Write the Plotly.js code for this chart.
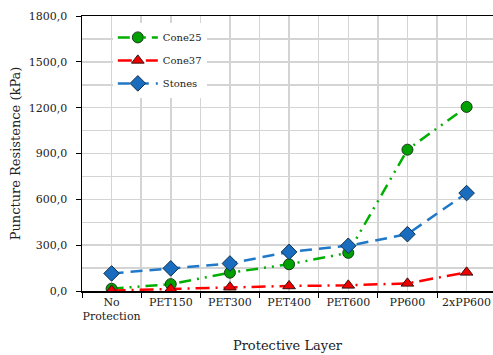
<!DOCTYPE html>
<html>
<head>
<meta charset="utf-8">
<script src="https://cdn.plot.ly/plotly-3.0.1.min.js"></script>
<style>html,body{margin:0;padding:0;background:#fff;}#chart{width:493px;height:355px;}</style>
</head>
<body>
<div id="chart"></div>
<script>
const categories = ["No<br>Protection", "PET150", "PET300", "PET400", "PET600", "PP600", "2xPP600"];
const cone25 = [15, 45, 120, 175, 250, 925, 1205];
const cone37 = [3, 12, 25, 33, 37, 50, 122];
const stones = [115, 148, 180, 256, 296, 372, 641];
const seriesNames = ["Cone25", "Cone37", "Stones"];
const yTickVals = [0, 300, 600, 900, 1200, 1500, 1800];

const xIdx = categories.map((_, i) => i);
const serif = "DejaVu Serif";

const traces = [
  {
    x: xIdx, y: cone25, name: seriesNames[0], type: "scatter", mode: "lines+markers", legendgroup: "g1",
    line: {color: "#00b000", width: 2.5, dash: "12px,6px,2px,6px,2px,6px"},
    marker: {symbol: "circle", size: 11, color: "#00a000", line: {color: "#1a3a1a", width: 1}}
  },
  {
    x: xIdx, y: cone37, name: seriesNames[1], type: "scatter", mode: "lines+markers", legendgroup: "g2",
    line: {color: "#ff0000", width: 2.5, dash: "14px,6px,2px,6px"},
    marker: {symbol: "triangle-up", size: 11, color: "#ee0000", line: {color: "#3a1010", width: 1}}
  },
  {
    x: xIdx, y: stones, name: seriesNames[2], type: "scatter", mode: "lines+markers", legendgroup: "g3",
    line: {color: "#1f78c8", width: 2.5, dash: "12px,7px"},
    marker: {symbol: "diamond", size: 12, color: "#1a6cbf", line: {color: "#10304a", width: 1}}
  }
];

const layout = {
  width: 493, height: 355,
  margin: {l: 82, r: 0, t: 16, b: 64},
  paper_bgcolor: "#fff", plot_bgcolor: "#fff",
  separators: ",.",
  showlegend: true,
  font: {family: serif, color: "#222", size: 11},
  legend: {
    x: 0.075, y: 0.975, xanchor: "left", yanchor: "top",
    bgcolor: "#ffffff", borderwidth: 0,
    font: {family: serif, size: 10, color: "#222"},
    itemwidth: 40, tracegroupgap: 4
  },
  xaxis: {
    range: [-0.5, 6.446],
    tickvals: xIdx, ticktext: categories,
    ticks: "", showgrid: true, gridcolor: "#d4d4d4", gridwidth: 1.5,
    showline: true, linecolor: "#000", linewidth: 1.5, mirror: true,
    zeroline: false,
    tickfont: {family: serif, size: 11, color: "#222"},
    minor: {tick0: 0.5, dtick: 1, ticks: "outside", ticklen: 5, tickcolor: "#000", showgrid: true, gridcolor: "#d4d4d4", gridwidth: 1.5},
    title: {text: "Protective Layer", font: {family: serif, size: 13, color: "#222"}, standoff: 19}
  },
  yaxis: {
    range: [0, 1800],
    tickvals: yTickVals, tickformat: ".1f",
    ticks: "outside", ticklen: 5, tickcolor: "#000",
    ticklabelstandoff: 6,
    showgrid: true, gridcolor: "#d4d4d4", gridwidth: 1.5,
    showline: true, linecolor: "#000", linewidth: 1.5,
    zeroline: false,
    tickfont: {family: serif, size: 11, color: "#222"},
    minor: {tick0: 150, dtick: 300, showgrid: true, gridcolor: "#d4d4d4", gridwidth: 1.5, ticks: ""},
    title: {text: "Puncture Resistence (kPa)", font: {family: serif, size: 13, color: "#222"}, standoff: 5}
  }
};

Plotly.newPlot("chart", traces, layout, {displayModeBar: false, staticPlot: true});
</script>
</body>
</html>
